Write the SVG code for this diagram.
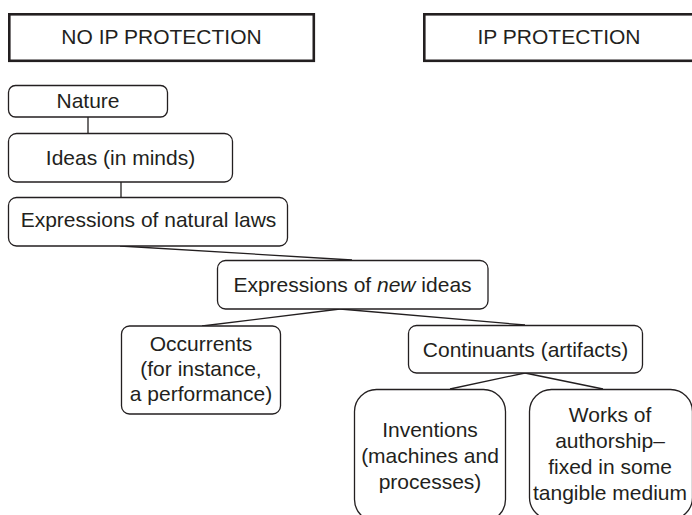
<svg xmlns="http://www.w3.org/2000/svg" width="692" height="515" viewBox="0 0 692 515">
<style>
text{font-family:"Liberation Sans",Arial,sans-serif;font-size:21px;fill:#231f20;text-anchor:middle}
.hdr{fill:#fff;stroke:#231f20;stroke-width:2.6}
.node{fill:#fff;stroke:#231f20;stroke-width:1.3}
.conn line{stroke:#231f20;stroke-width:1.3}
</style>
<rect width="692" height="515" fill="#fff"/>
<g class="conn">
<line x1="88" y1="117" x2="88" y2="133"/>
<line x1="121" y1="182" x2="121" y2="197"/>
<line x1="120" y1="246" x2="352" y2="260"/>
<line x1="340" y1="309" x2="202" y2="326"/>
<line x1="340" y1="309" x2="525" y2="325"/>
<line x1="525" y1="373" x2="450" y2="389"/>
<line x1="525" y1="373" x2="603" y2="389"/>
</g>
<g id="no-ip">
<rect class="hdr" x="9.3" y="14.3" width="304.5" height="46.5"/>
<text x="161.5" y="44">NO IP PROTECTION</text>
</g>
<g id="ip">
<rect class="hdr" x="424.3" y="14.3" width="272" height="46.5"/>
<text x="559" y="44">IP PROTECTION</text>
</g>
<g id="nature">
<rect class="node" x="8.5" y="85.5" width="159" height="31.5" rx="7"/>
<text x="88" y="108">Nature</text>
</g>
<g id="ideas">
<rect class="node" x="8.5" y="133.5" width="224" height="48.5" rx="8"/>
<text x="120.5" y="165">Ideas (in minds)</text>
</g>
<g id="natural-laws">
<rect class="node" x="8.5" y="197.5" width="279" height="48.5" rx="8"/>
<text x="148.5" y="227">Expressions of natural laws</text>
</g>
<g id="new-ideas">
<rect class="node" x="217.5" y="260.5" width="270.5" height="48.5" rx="8"/>
<text x="352.5" y="292">Expressions of <tspan font-style="italic">new</tspan> ideas</text>
</g>
<g id="occurrents">
<rect class="node" x="121.5" y="326" width="159" height="88" rx="8"/>
<text x="201" y="351">Occurrents</text>
<text x="201" y="376">(for instance,</text>
<text x="201" y="401">a performance)</text>
</g>
<g id="continuants">
<rect class="node" x="408.5" y="325.5" width="234" height="47.5" rx="8"/>
<text x="525.5" y="357">Continuants (artifacts)</text>
</g>
<g id="inventions">
<rect class="node" x="354.5" y="389.5" width="151" height="132" rx="22"/>
<text x="430" y="437">Inventions</text>
<text x="430" y="463">(machines and</text>
<text x="430" y="489">processes)</text>
</g>
<g id="works">
<rect class="node" x="529.5" y="389.5" width="163" height="130" rx="22"/>
<text x="610" y="422">Works of</text>
<text x="610" y="448">authorship–</text>
<text x="610" y="474">fixed in some</text>
<text x="610" y="500">tangible medium</text>
</g>
</svg>
